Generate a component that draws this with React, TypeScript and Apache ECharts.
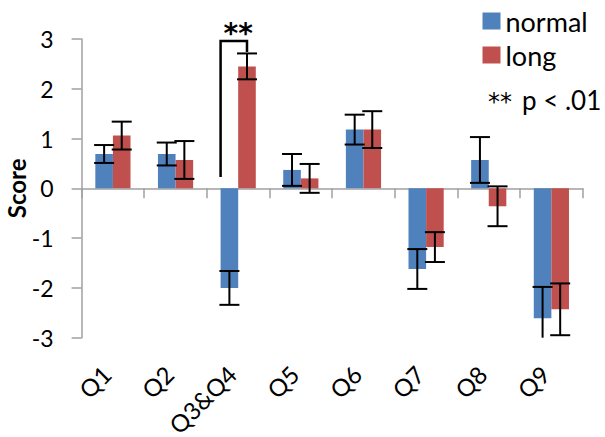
import React, { useEffect, useRef } from "react";
import * as echarts from "echarts";

const CATEGORIES = ["Q1", "Q2", "Q3&Q4", "Q5", "Q6", "Q7", "Q8", "Q9"];
const NORMAL = [0.69, 0.69, -2.0, 0.37, 1.18, -1.62, 0.57, -2.61];
const NORMAL_ERR = [0.18, 0.23, 0.34, 0.32, 0.3, 0.4, 0.46, 0.63];
const LONG = [1.06, 0.57, 2.45, 0.2, 1.18, -1.18, -0.36, -2.43];
const LONG_ERR = [0.28, 0.38, 0.26, 0.29, 0.37, 0.3, 0.4, 0.52];
const Y_TICKS = [-3, -2, -1, 0, 1, 2, 3];
// significance bracket: category index, left foot, top, right foot
const SIG_BRACKET = [2, 0.23, 2.96, 2.74];
const SIG_STARS_Y = 3.12;
const NOTE_STARS = "**";
const NOTE_TEXT = "p < .01";

const Y_MIN = Y_TICKS[0];
const Y_MAX = Y_TICKS[Y_TICKS.length - 1];
const BAR_W = 17.6;
const CAP_W = 20;
const FONT = "Lato, 'Open Sans', sans-serif";
const STAR_FONT = "'DejaVu Sans', sans-serif";
const BLUE = "#4f81bd";
const RED = "#c0504d";
const AXIS_GRAY = "#a0a0a0";

function errorRenderer(offset: number) {
  return (params: any, api: any) => {
    const i = api.value(0);
    const v = api.value(1);
    const e = api.value(2);
    const hiV = Math.min(v + e, Y_MAX);
    const loV = Math.max(v - e, Y_MIN);
    const c = api.coord([i, v]);
    const x = c[0] + offset;
    const yHi = api.coord([i, hiV])[1];
    const yLo = api.coord([i, loV])[1];
    const style = { stroke: "#000", lineWidth: 2 };
    const children: any[] = [
      { type: "line", shape: { x1: x, y1: yHi, x2: x, y2: yLo }, style },
    ];
    if (v + e <= Y_MAX)
      children.push({ type: "line", shape: { x1: x - CAP_W / 2, y1: yHi, x2: x + CAP_W / 2, y2: yHi }, style });
    if (v - e >= Y_MIN)
      children.push({ type: "line", shape: { x1: x - CAP_W / 2, y1: yLo, x2: x + CAP_W / 2, y2: yLo }, style });
    return { type: "group", children };
  };
}

function bracketRenderer(params: any, api: any) {
  const i = api.value(0);
  const c = api.coord([i, 0]);
  const xl = c[0] - BAR_W;
  const xr = c[0] + BAR_W / 2;
  const yl = api.coord([i, api.value(1)])[1];
  const yt = api.coord([i, api.value(2)])[1];
  const yr = api.coord([i, api.value(3)])[1];
  const ys = api.coord([i, SIG_STARS_Y])[1];
  return {
    type: "group",
    children: [
      {
        type: "polyline",
        shape: { points: [[xl, yl], [xl, yt], [xr, yt], [xr, yr]] },
        style: { stroke: "#000", lineWidth: 2.5, fill: "none" },
      },
      {
        type: "text",
        style: {
          text: "**",
          x: c[0],
          y: ys,
          align: "center",
          verticalAlign: "middle",
          fontSize: 28,
          fontWeight: "bold",
          fontFamily: STAR_FONT,
          fill: "#000",
        },
      },
    ],
  };
}

export default function App() {
  const ref = useRef<HTMLDivElement>(null);
  useEffect(() => {
    document.body.style.margin = "0";
    if (!ref.current) return;
    const chart = echarts.init(ref.current, null, { renderer: "svg" });
    chart.setOption({
      animation: false,
      grid: { left: 81.6, right: 22.3, top: 39, bottom: 99.3, outerBoundsMode: "none" },
      legend: {
        data: ["normal", "long"],
        orient: "vertical",
        left: 482.5,
        top: 7.5,
        padding: 0,
        itemGap: 7,
        itemWidth: 18,
        itemHeight: 17,
        icon: "rect",
        textStyle: { fontSize: 27, lineHeight: 27, fontFamily: FONT, color: "#000" },
      },
      graphic: [
        {
          type: "text",
          x: 488,
          y: 101.5,
          style: {
            text: NOTE_STARS,
            fontSize: 24,
            fontFamily: STAR_FONT,
            fill: "#000",
            verticalAlign: "middle",
          },
        },
        {
          type: "text",
          x: 522,
          y: 100.3,
          style: {
            text: NOTE_TEXT,
            fontSize: 26,
            fontFamily: FONT,
            fill: "#000",
            verticalAlign: "middle",
          },
        },
      ],
      xAxis: [
        {
          type: "category",
          data: CATEGORIES,
          position: "bottom",
          axisLine: { onZero: true, lineStyle: { color: AXIS_GRAY, width: 1.5 } },
          axisTick: { show: true, length: 10, lineStyle: { color: AXIS_GRAY, width: 1.5 } },
          axisLabel: { show: false },
        },
        {
          type: "category",
          data: CATEGORIES,
          position: "bottom",
          axisLine: { show: false, onZero: false },
          axisTick: { show: false },
          axisLabel: {
            rotate: 45,
            margin: 9,
            padding: [0, 21, 0, 0],
            align: "right",
            verticalAlign: "top",
            fontSize: 24,
            fontFamily: FONT,
            color: "#000",
            interval: 0,
          },
        },
      ],
      yAxis: {
        type: "value",
        min: Y_MIN,
        max: Y_MAX,
        interval: 1,
        name: "Score",
        nameLocation: "middle",
        nameGap: 53,
        nameMoveOverlap: false,
        nameTextStyle: { fontSize: 24, fontWeight: "bold", fontFamily: FONT, color: "#000" },
        axisLine: { show: true, lineStyle: { color: AXIS_GRAY, width: 1.5 } },
        axisTick: { show: true, length: 10, lineStyle: { color: AXIS_GRAY, width: 1.5 } },
        splitLine: { show: false },
        axisLabel: { margin: 28, fontSize: 23, fontFamily: FONT, color: "#000" },
      },
      series: [
        {
          name: "normal",
          type: "bar",
          data: NORMAL,
          barWidth: BAR_W,
          barGap: "0%",
          itemStyle: { color: BLUE },
        },
        {
          name: "long",
          type: "bar",
          data: LONG,
          barWidth: BAR_W,
          barGap: "0%",
          itemStyle: { color: RED },
        },
        {
          name: "normal-err",
          type: "custom",
          data: NORMAL.map((v, i) => [i, v, NORMAL_ERR[i]]),
          encode: { x: 0, y: 1 },
          renderItem: errorRenderer(-BAR_W / 2),
          z: 5,
        },
        {
          name: "long-err",
          type: "custom",
          data: LONG.map((v, i) => [i, v, LONG_ERR[i]]),
          encode: { x: 0, y: 1 },
          renderItem: errorRenderer(BAR_W / 2),
          z: 5,
        },
        {
          name: "sig",
          type: "custom",
          data: [SIG_BRACKET],
          encode: { x: 0, y: 1 },
          renderItem: bracketRenderer,
          z: 6,
        },
      ],
    });
    return () => chart.dispose();
  }, []);
  return <div ref={ref} style={{ width: 605, height: 437 }} />;
}
